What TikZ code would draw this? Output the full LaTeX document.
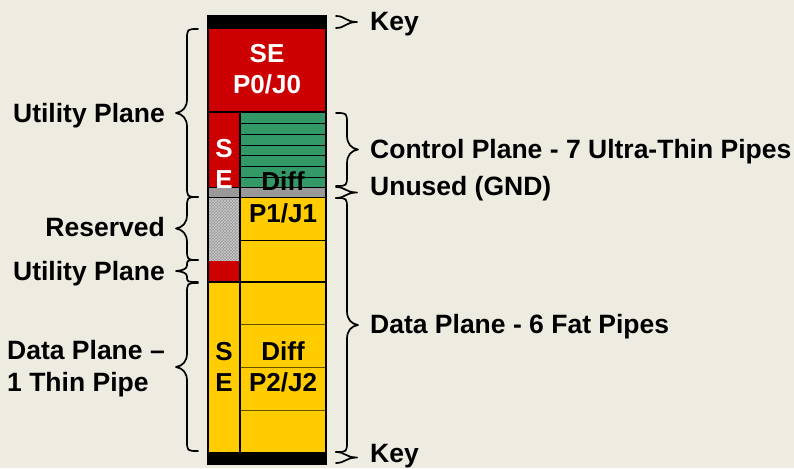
\documentclass[tikz,border=0pt]{standalone}
\usepackage{fontspec}
\setmainfont{Liberation Sans}
\usetikzlibrary{patterns}
\definecolor{bg}{RGB}{238,235,224}
\definecolor{sered}{RGB}{204,0,0}
\definecolor{cgreen}{RGB}{51,153,102}
\definecolor{ugray}{RGB}{153,153,153}
\definecolor{hgray}{RGB}{150,150,150}
\definecolor{hlight}{RGB}{205,205,205}
\definecolor{dyel}{RGB}{255,204,0}
\definecolor{dline}{RGB}{100,80,0}
\newcommand{\drawbrace}[4]{%
  \pgfmathsetmacro{\bh}{#4/2}%
  \pgfmathsetmacro{\bm}{(#2+#3)/2}%
  \pgfmathsetmacro{\br}{min(abs(#4)/2,(#3-#2)/4)}%
  \pgfmathsetmacro{\bt}{min(1.25*abs(#4)/2,(#3-#2)/2-\br)}%
  \draw[bracestyle] (#1,#2) .. controls (#1+\bh,#2) .. (#1+\bh,#2+\br)
     -- (#1+\bh,\bm-\bt)
     .. controls (#1+\bh,\bm-0.4*\bt) and (#1+1.4*\bh,\bm-0.08*\bt) .. (#1+#4,\bm)
     .. controls (#1+1.4*\bh,\bm+0.08*\bt) and (#1+\bh,\bm+0.4*\bt) .. (#1+\bh,\bm+\bt)
     -- (#1+\bh,#3-\br) .. controls (#1+\bh,#3) .. (#1,#3);%
}
\newcommand{\smallbrace}[4]{%
  \pgfmathsetmacro{\bk}{0.45*#4}%
  \pgfmathsetmacro{\bm}{(#2+#3)/2}%
  \draw[bracestyle] (#1,#2) .. controls (#1+\bk,#2) and (#1+\bk,\bm) .. (#1+#4,\bm) .. controls (#1+\bk,\bm) and (#1+\bk,#3) .. (#1,#3);%
}
\begin{document}
\begin{tikzpicture}[x=1pt,y=-1pt,
  lbl/.style={font=\fontsize{26.5}{30}\selectfont\bfseries, inner sep=0pt},
  inlbl/.style={font=\fontsize{26}{30}\selectfont\bfseries, inner sep=0pt, anchor=base},
  bracestyle/.style={line width=1.7pt, line join=round, line cap=round},
  thinln/.style={line width=1pt},
  thickln/.style={line width=2.2pt}]
\fill[bg] (0,0) rectangle (794,468);
\useasboundingbox (0,0) rectangle (794,468);
% fills
\fill[black] (208,16) rectangle (326,29);
\fill[sered] (208,29) rectangle (326,112);
\fill[sered] (208,112) rectangle (240,187);
\fill[cgreen] (240,112) rectangle (326,187);
\fill[ugray] (208,187) rectangle (326,197);
\fill[hgray] (208,197) rectangle (240,261);
\fill[pattern=crosshatch, pattern color=hlight] (208,197) rectangle (240,261);
\fill[sered] (208,261) rectangle (240,282);
\fill[dyel] (240,197) rectangle (326,282);
\fill[dyel] (208,282) rectangle (326,452);
\fill[black] (208,452) rectangle (326,464);
% lines
\foreach \yy in {123,134,145,155,166,177} \draw[thinln] (240,\yy) -- (326,\yy);
\draw[thinln] (208,187) -- (326,187);
\draw[thinln] (208,197) -- (326,197);
\draw[thinln] (240,240) -- (326,240);
\foreach \yy in {324,367,410} \draw[thinln, dline] (240,\yy) -- (326,\yy);
\draw[thickln] (208,112) -- (326,112);
\draw[thickln] (208,282) -- (326,282);
\draw[thickln] (240,112) -- (240,452);
\draw[line width=2pt] (208,16) rectangle (326,464);
% inner texts
\node[inlbl, white] (se0) at (267,63) {SE};
\node[inlbl, white] (p0) at (267,94) {P0/J0};
\node[inlbl, white] (s1) at (224,157) {S};
\node[inlbl, white] (e1) at (224,188) {E};
\node[inlbl] (diff1) at (283,190) {Diff};
\node[inlbl] (p1) at (283,222) {P1/J1};
\node[inlbl] (s2) at (224,360) {S};
\node[inlbl] (e2) at (224,391) {E};
\node[inlbl] (diff2) at (283,360) {Diff};
\node[inlbl] (p2) at (283,391) {P2/J2};
% left braces
\drawbrace{198}{29}{197}{-22}
\drawbrace{198}{197}{260}{-22}
\drawbrace{198}{260}{282}{-22}
\drawbrace{198}{283}{451}{-22}
% right braces
\smallbrace{336}{16}{28}{21}
\drawbrace{336}{113}{186}{22}
\smallbrace{336}{187}{198}{21}
\drawbrace{336}{198}{452}{22}
\smallbrace{336}{452}{463}{21}
% labels
\node[lbl, anchor=base east] (lu1) at (165,122) {Utility Plane};
\node[lbl, anchor=base east] (lres) at (165,236) {Reserved};
\node[lbl, anchor=base east] (lu2) at (165,280) {Utility Plane};
\node[lbl, anchor=base west] (ld1) at (7,359) {Data Plane –};
\node[lbl, anchor=base west] (ld2) at (7,391) {1 Thin Pipe};
\node[lbl, anchor=base west] (rk1) at (370,31) {Key};
\node[lbl, anchor=base west] (rc) at (370,158) {Control Plane - 7 Ultra-Thin Pipes};
\node[lbl, anchor=base west] (ru) at (370,195) {Unused (GND)};
\node[lbl, anchor=base west] (rd) at (370,333) {Data Plane - 6 Fat Pipes};
\node[lbl, anchor=base west] (rk2) at (370,462) {Key};
\end{tikzpicture}
\end{document}
